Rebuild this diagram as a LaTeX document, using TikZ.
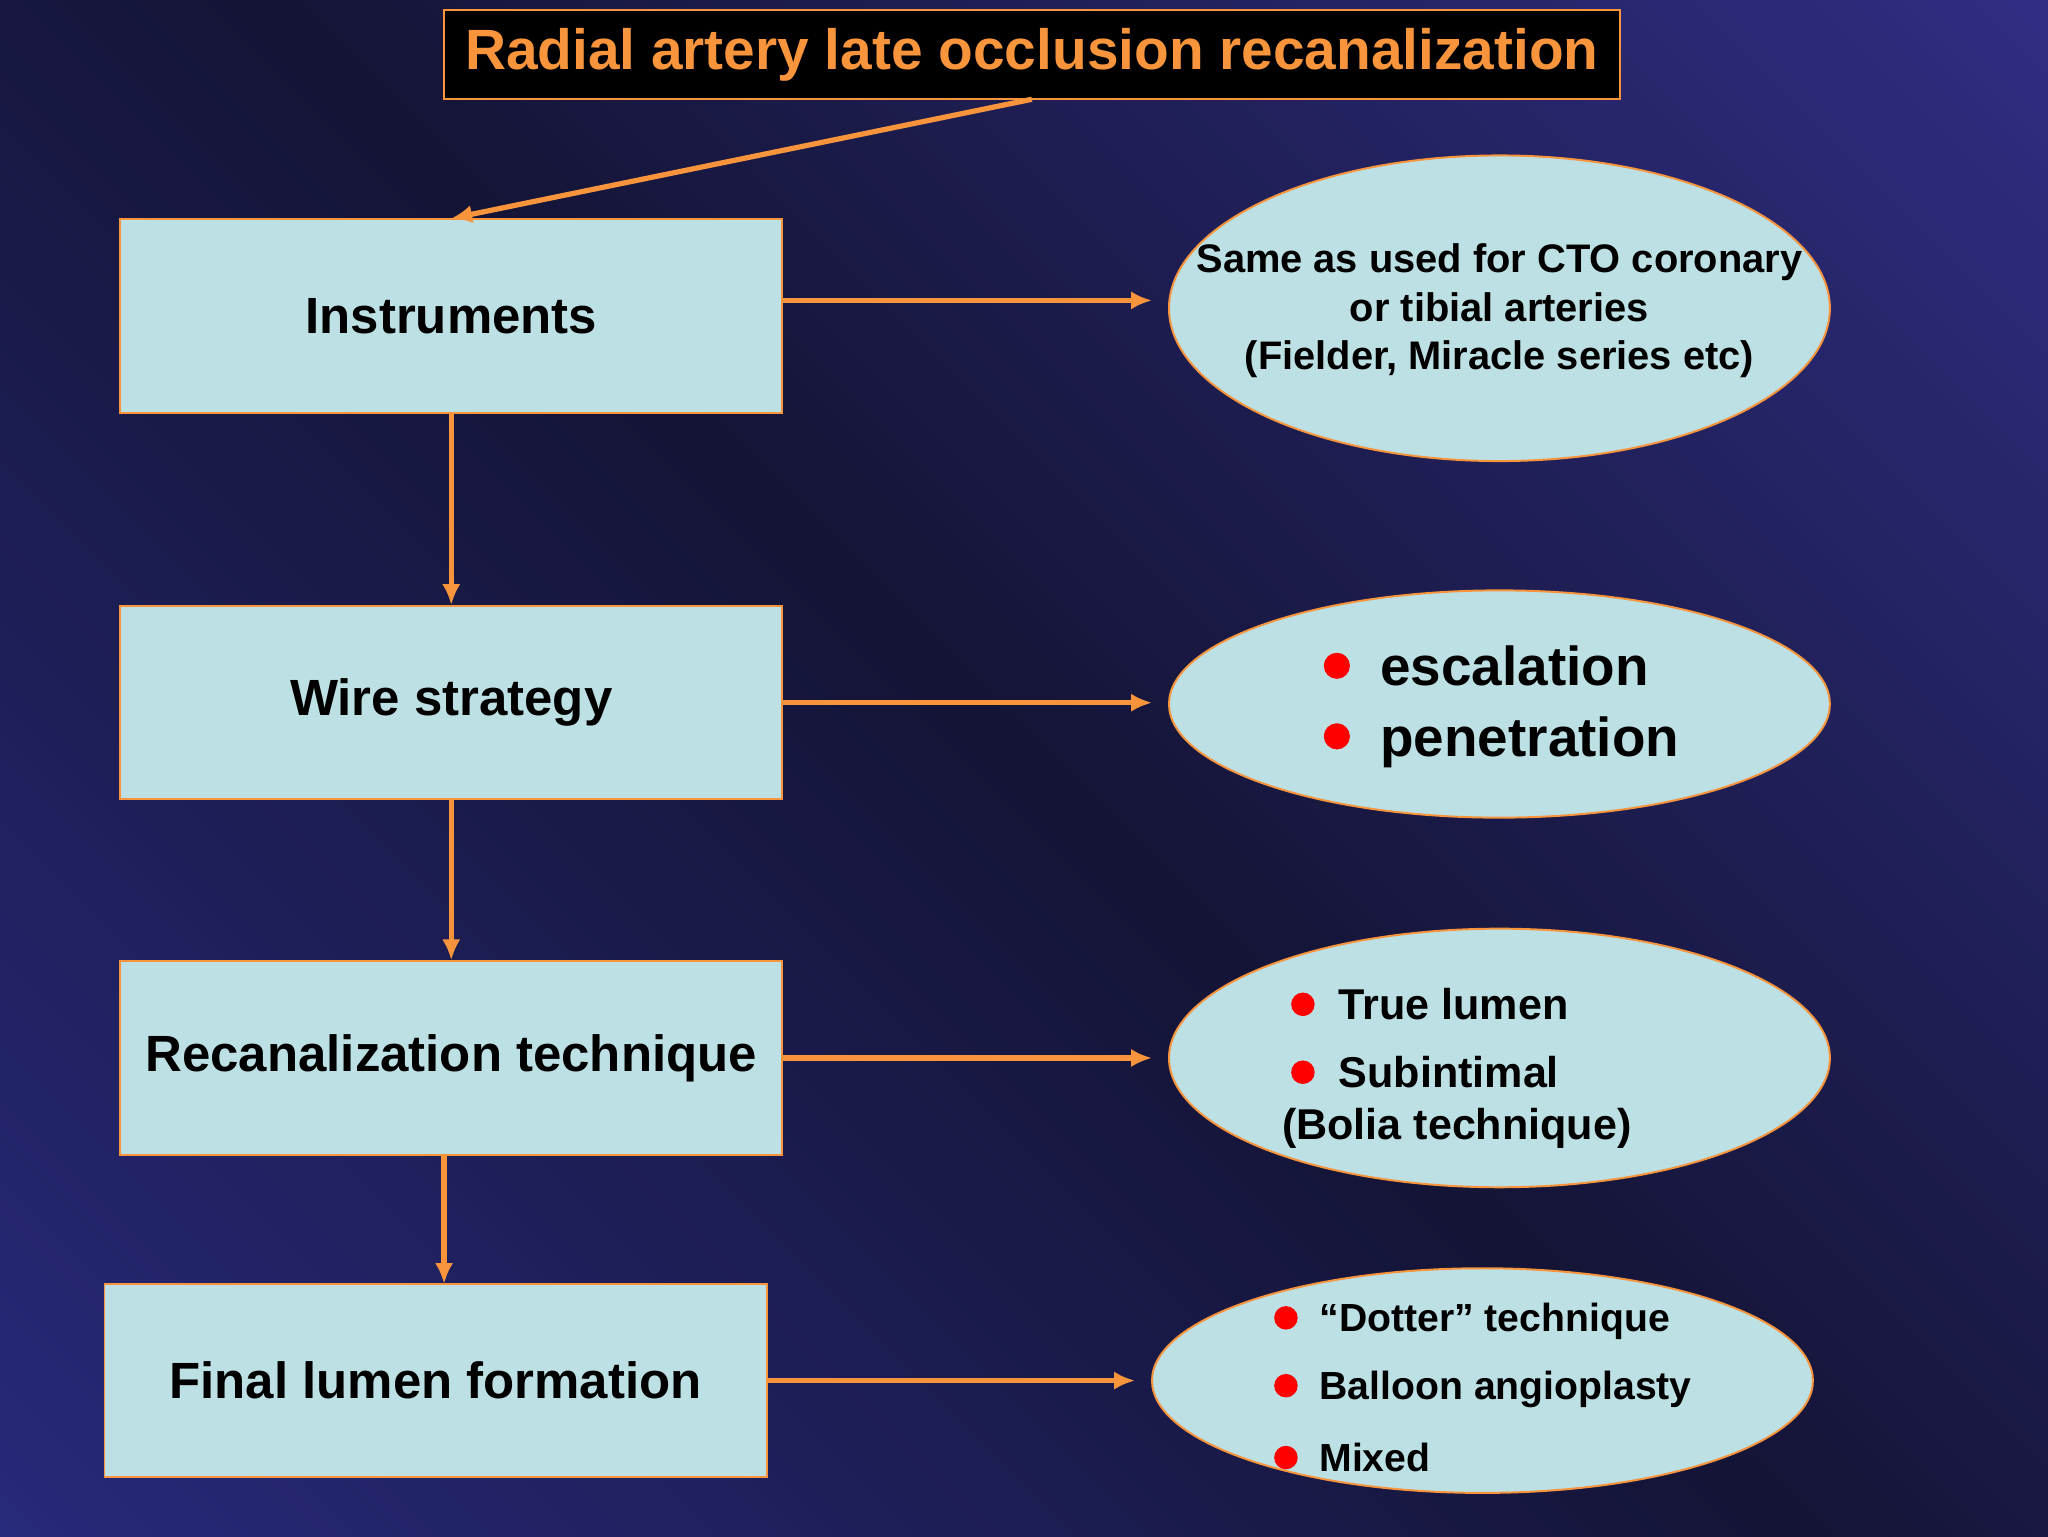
\documentclass[tikz,border=0pt]{standalone}
\usepackage{fontspec}
\setmainfont{Liberation Sans}
\usetikzlibrary{arrows.meta,shapes.geometric}
\definecolor{boxfill}{HTML}{BDE0E4}
\definecolor{org}{HTML}{F7943C}
\definecolor{bgA}{HTML}{3A38A2}
\definecolor{bgB}{HTML}{141436}
\definecolor{bgC}{HTML}{2F3296}
\pgfdeclareverticalshading{bgshade}{100bp}{color(0bp)=(bgC); color(15bp)=(bgC!70!bgB); color(50bp)=(bgB); color(85bp)=(bgA!70!bgB); color(100bp)=(bgA)}
\tikzset{
 stepbox/.style={draw=org,line width=1.5pt,fill=boxfill,minimum width=507pt,minimum height=148pt,inner sep=0pt,font=\fontsize{39}{48}\selectfont\bfseries},
 oval/.style={ellipse,draw=org,line width=1.5pt,fill=boxfill,inner sep=0pt},
 arr/.style={draw=org,line width=4pt,-{Latex[length=16pt,width=14pt]}},
}
\newcommand{\bl}[1]{\tikz[baseline=0pt]\fill[red] (0,0.36em) circle (#1);}
\begin{document}
\begin{tikzpicture}[x=1pt,y=-1pt]
\useasboundingbox (0,0) rectangle (1568,1176);
\shade[shading=bgshade,shading angle=-45] (0,0) rectangle (1568,1176);
\node[draw=org,line width=1.5pt,fill=black,minimum width=900pt,minimum height=68pt,text=org,font=\fontsize{43.5}{50}\selectfont\bfseries] (t) at (790,42) {Radial artery late occlusion recanalization};
\node[stepbox] (b1) at (345.5,242) {Instruments};
\node[stepbox] (b2) at (345.5,538) {Wire strategy};
\node[stepbox] (b3) at (345.5,810) {Recanalization technique};
\node[stepbox] (b4) at (333.5,1057) {Final lumen formation};
\node[oval,minimum width=506pt,minimum height=234pt] (e1) at (1148,236) {};
\node[oval,minimum width=506pt,minimum height=174pt] (e2) at (1148,539) {};
\node[oval,minimum width=506pt,minimum height=198pt] (e3) at (1148,810) {};
\node[oval,minimum width=506pt,minimum height=172pt] (e4) at (1135,1057) {};
\node[align=center,font=\fontsize{30.5}{37}\selectfont\bfseries] (x1) at (1148,238) {Same as used for CTO coronary\\or tibial arteries\\(Fielder, Miracle series etc)};
\node[anchor=west,font=\fontsize{42}{54}\selectfont\bfseries,align=left] (x2) at (1010,541) {\bl{10pt}\ \ escalation\\\bl{10pt}\ \ penetration};
\node[anchor=west,font=\fontsize{33}{44}\selectfont\bfseries] (x3a) at (985,769) {\bl{9pt}\ \ True lumen};
\node[anchor=west,font=\fontsize{33}{44}\selectfont\bfseries] (x3b) at (985,821) {\bl{9pt}\ \ Subintimal};
\node[anchor=west,font=\fontsize{33}{44}\selectfont\bfseries] (x3c) at (978,864) {(Bolia technique)};
\node[anchor=west,font=\fontsize{30}{36}\selectfont\bfseries] (x4a) at (972,1012) {\bl{9pt}\ \ “Dotter” technique};
\node[anchor=west,font=\fontsize{30}{36}\selectfont\bfseries] (x4b) at (972,1064) {\bl{9pt}\ \ Balloon angioplasty};
\node[anchor=west,font=\fontsize{30}{36}\selectfont\bfseries] (x4c) at (972,1116) {\bl{9pt}\ \ Mixed};
\coordinate (ts) at (790,76);
\draw[arr] (ts) -- (b1.north);
\draw[arr] (b1.south) -- (b2.north);
\draw[arr] (b2.south) -- (b3.north);
\draw[arr] (340,884) -- (340,983);
\draw[arr] (b1.east |- 0,230) -- (882,230);
\draw[arr] (b2.east) -- (882,538);
\draw[arr] (b3.east) -- (882,810);
\draw[arr] (b4.east) -- (869,1057);
\end{tikzpicture}
\end{document}
